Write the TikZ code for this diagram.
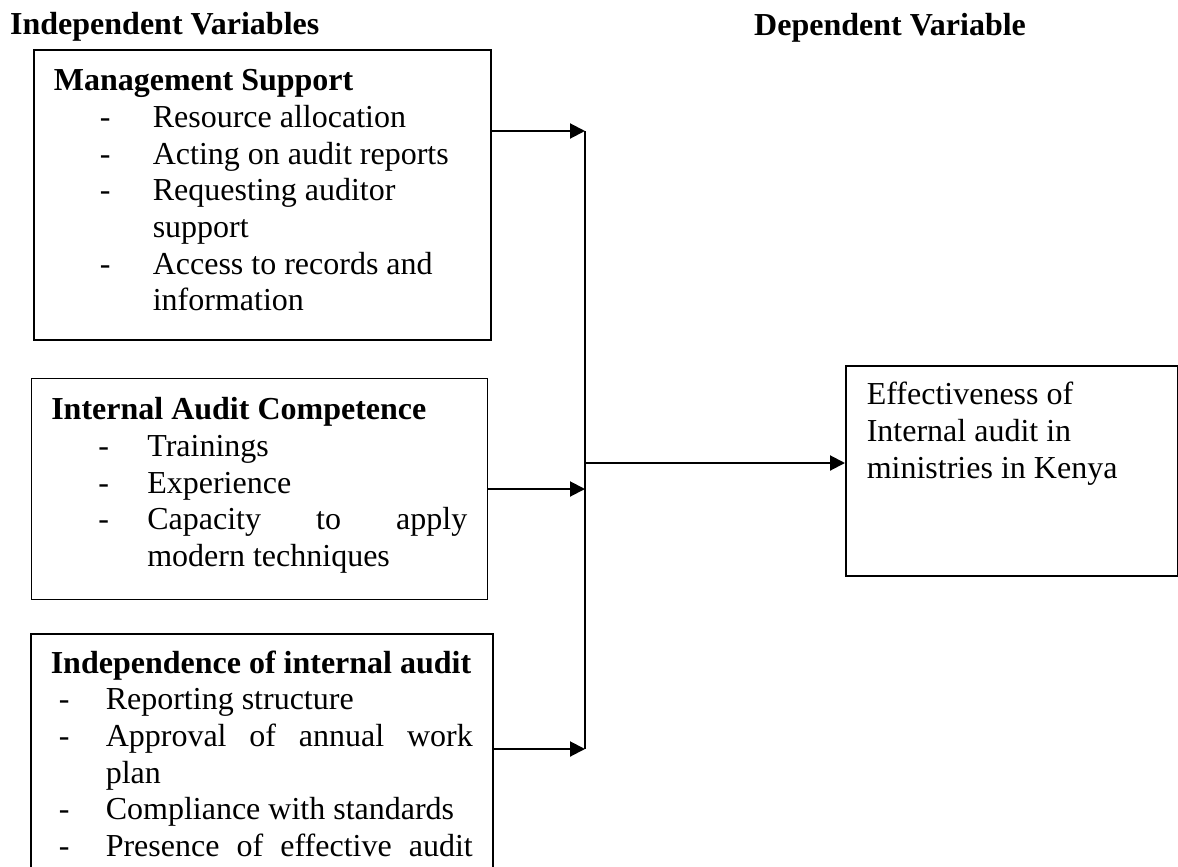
\documentclass[tikz,border=0pt]{standalone}
\usepackage{fontspec}
\setmainfont{Liberation Serif}
\usepackage{tikz}
\usetikzlibrary{positioning,arrows.meta}

\hyphenpenalty=10000
\exhyphenpenalty=10000
\newcommand{\bodysize}{\fontsize{32}{36.7}\selectfont}
\newcommand{\dashitem}[3]{\par\noindent\hangindent=#2\hangafter=1\hspace*{#1}\makebox[\dimexpr#2-#1\relax][l]{-}#3}

\begin{document}
\begin{tikzpicture}[
    x=1pt, y=-1pt,
    box/.style={draw, line width=1.6pt, inner ysep=0pt, inner xsep=20pt, font=\bodysize},
    head/.style={font=\bodysize\bfseries, inner sep=0pt},
    arrow/.style={-{Triangle[length=15pt,width=15pt]}, line width=2pt},
    bus/.style={line width=1.8pt}
]
    \useasboundingbox (0,0) rectangle (1178,867);
    \clip (0,0) rectangle (1178,867);

    % Headers
    \node[head, anchor=base west] (indephead) at (10,35) {Independent Variables};
    \node[head, anchor=base west] (dephead) at (754,36) {Dependent Variable};

    % Independent variables
    \node[box, anchor=north west, text width=417pt, align=flush left] (mgmt) at (33,49) {%
        \rule{0pt}{41pt}\textbf{Management Support}
        \dashitem{46pt}{99pt}{Resource allocation}
        \dashitem{46pt}{99pt}{Acting on audit reports}
        \dashitem{46pt}{99pt}{Requesting auditor support}
        \dashitem{46pt}{99pt}{Access to records and information\rule[-29pt]{0pt}{29pt}}\par};
    \node[box, text width=416pt, align=justify, below=37pt of mgmt, xshift=-3pt] (comp) {%
        \tolerance=10000
        \rule{0pt}{41pt}\textbf{Internal Audit Competence}
        \dashitem{47pt}{96pt}{Trainings}
        \dashitem{47pt}{96pt}{Experience}
        \dashitem{47pt}{96pt}{Capacity to apply\linebreak modern techniques\rule[-33pt]{0pt}{33pt}}\par};
    \node[box, text width=422pt, align=justify, below=33pt of comp, xshift=2.5pt] (indep) {%
        \tolerance=10000
        \rule{0pt}{39pt}\textbf{Independence of internal audit}
        \dashitem{8pt}{55pt}{Reporting structure}
        \dashitem{8pt}{55pt}{Approval of annual work\linebreak plan}
        \dashitem{8pt}{55pt}{Compliance with standards}
        \dashitem{8pt}{55pt}{Presence of effective audit\rule[-40pt]{0pt}{40pt}\parfillskip=0pt}\par};

    % Dependent variable
    \node[box, anchor=north west, text width=290pt, inner xsep=21pt, align=flush left] (effect) at (845,365) {%
        \rule{0pt}{39pt}Effectiveness of\\Internal audit in\\ministries in Kenya\rule[-98pt]{0pt}{98pt}};

    % Bus points
    \coordinate (bustop) at (585,131);
    \coordinate (busin) at (585,489);
    \coordinate (busbot) at (585,749);
    \coordinate (busout) at (585,463);

    % Connections
    \draw[bus] (bustop) -- (busbot);
    \draw[arrow] (mgmt.east |- bustop) -- (bustop);
    \draw[arrow] (comp.east |- busin) -- (busin);
    \draw[arrow] (indep.east |- busbot) -- (busbot);
    \draw[arrow] (busout) -- (busout -| effect.west);
\end{tikzpicture}
\end{document}
